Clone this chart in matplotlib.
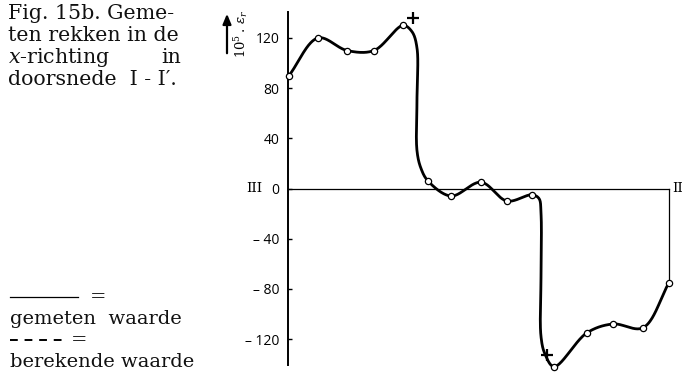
import numpy as np
import matplotlib.pyplot as plt
from matplotlib.lines import Line2D
from matplotlib.patches import FancyArrowPatch

plt.rcParams['mathtext.fontset'] = 'dejavuserif'

# measured points (position along section, 10^5 * strain)
meas_x = [0, 29, 58, 85, 114, 139, 162, 192, 218, 243, 265, 298, 324, 354, 380]
meas_y = [90, 120, 110, 110, 130, 6, -6, 5, -10, -5, -142, -115, -108, -111, -75]

# where the drawn curve bends through the two steep drops
bend_x = [123, 128, 128, 128, 132, 250, 252, 252, 252, 256]
bend_y = [125, 112, 72, 30, 16, -8, -20, -70, -118, -132]

# the two "+" marks
cross_x = [124, 258]
cross_y = [136, -133]

yticks = [120, 80, 40, 0, -40, -80, -120]
ytick_labels = ['120', '80', '40', '0', '\u2013 40', '\u2013 80', '\u2013 120']

W, H = 682, 374


def fx(x):
    return x / W


def fy(y):
    return 1 - y / H


def catmull_rom(px, py, n=40, alpha=0.5):
    P = np.column_stack([px, py]).astype(float)
    P = np.vstack([2 * P[0] - P[1], P, 2 * P[-1] - P[-2]])
    out = []
    for i in range(1, len(P) - 2):
        p0, p1, p2, p3 = P[i - 1], P[i], P[i + 1], P[i + 2]
        t0 = 0.0
        t1 = t0 + np.linalg.norm(p1 - p0) ** alpha
        t2 = t1 + np.linalg.norm(p2 - p1) ** alpha
        t3 = t2 + np.linalg.norm(p3 - p2) ** alpha
        t = np.linspace(t1, t2, n)[:, None]
        A1 = (t1 - t) / (t1 - t0) * p0 + (t - t0) / (t1 - t0) * p1
        A2 = (t2 - t) / (t2 - t1) * p1 + (t - t1) / (t2 - t1) * p2
        A3 = (t3 - t) / (t3 - t2) * p2 + (t - t2) / (t3 - t2) * p3
        B1 = (t2 - t) / (t2 - t0) * A1 + (t - t0) / (t2 - t0) * A2
        B2 = (t3 - t) / (t3 - t1) * A2 + (t - t1) / (t3 - t1) * A3
        out.append((t2 - t) / (t2 - t1) * B1 + (t - t1) / (t2 - t1) * B2)
    return np.vstack(out)


fig = plt.figure(figsize=(W / 100, H / 100), dpi=100)
ax = fig.add_axes([fx(288), fy(365), (669 - 288) / W, (365 - 12) / H])
ax.set_xlim(-1, 380)
ax.set_ylim(-140.7, 140.7)

# smooth curve through measured points + bends (done in pixel-like space)
kx = np.array(meas_x + bend_x, dtype=float)
ky = np.array(meas_y + bend_y, dtype=float)
order = np.lexsort((-ky, kx))
sy = (365 - 12) / (2 * 140.7)
curve = catmull_rom(kx[order], ky[order] * sy)
ax.plot(curve[:, 0], curve[:, 1] / sy, color='black', lw=2.0, solid_capstyle='round',
        clip_on=False, zorder=3)

ax.plot(meas_x, meas_y, 'o', ms=4.5, mfc='white', mec='black', mew=0.9, clip_on=False, zorder=4)
ax.plot(cross_x, cross_y, '+', ms=8, mew=1.6, color='black', clip_on=False, zorder=4)

# zero line and closing line at II
ax.plot([0, meas_x[-1]], [0, 0], color='black', lw=0.9, clip_on=False, zorder=2)
ax.plot([meas_x[-1], meas_x[-1]], [0, meas_y[-1]], color='black', lw=0.9, clip_on=False, zorder=2)

for s in ['top', 'right', 'bottom']:
    ax.spines[s].set_visible(False)
ax.spines['left'].set_linewidth(1.4)
ax.set_xticks([])
ax.set_yticks(yticks)
ax.set_yticklabels(ytick_labels, fontfamily='Open Sans', fontsize=10)
ax.tick_params(axis='y', direction='in', length=3, width=1, pad=6)

ax.text(-43, 0, 'III', fontfamily='DejaVu Serif', fontsize=9.5, va='center', ha='left')
ax.text(383, 0, 'II', fontfamily='DejaVu Serif', fontsize=9.5, va='center', ha='left')

# y label with arrow
fig.patches.append(FancyArrowPatch(
    (fx(227), fy(56)), (fx(227), fy(11)), transform=fig.transFigure,
    arrowstyle='-|>,head_length=6,head_width=2.5', lw=1.6, color='black'))
fig.text(fx(241), fy(34), r'$10^5\,.\,\varepsilon_r$', rotation=90, fontsize=9.5,
         ha='center', va='center')

title = dict(fontfamily='DejaVu Serif', fontsize=14.8, color='#111111', va='baseline')
fig.text(fx(8), fy(19), 'Fig. 15b. Geme-', ha='left', **title)
fig.text(fx(8), fy(41), 'ten rekken in de', ha='left', **title)
fig.text(fx(8), fy(63), r'$\mathit{x}$-richting', ha='left', **title)
fig.text(fx(181), fy(63), 'in', ha='right', **title)
fig.text(fx(8), fy(85), 'doorsnede  I - I\u2032.', ha='left', **title)

serif = dict(fontfamily='DejaVu Serif', fontsize=14, color='#111111', va='baseline')
fig.add_artist(Line2D([fx(10), fx(78)], [fy(297), fy(297)], color='black', lw=0.9))
fig.text(fx(90), fy(302), '=', ha='left', **serif)
fig.text(fx(10), fy(324), 'gemeten  waarde', ha='left', **serif)
fig.add_artist(Line2D([fx(10), fx(62)], [fy(340), fy(340)], color='black', lw=1.4,
                      dashes=(4, 3.5)))
fig.text(fx(71), fy(345), '=', ha='left', **serif)
fig.text(fx(10), fy(367), 'berekende waarde', ha='left', **serif)

fig.savefig('out.png', dpi=100)
